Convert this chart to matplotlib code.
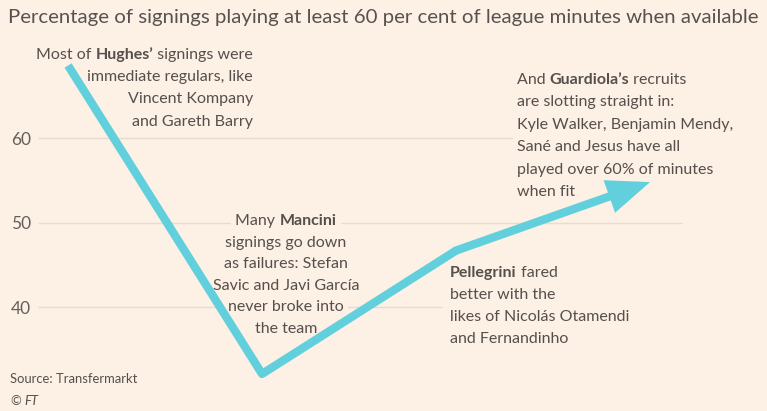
import matplotlib
matplotlib.use("Agg")
import matplotlib.pyplot as plt
from matplotlib.offsetbox import TextArea, HPacker, AnnotationBbox
from matplotlib.patches import FancyArrowPatch

# data
managers = ["Hughes", "Mancini", "Pellegrini", "Guardiola"]
pct_regular = [68.6, 32.1, 46.7, 54.8]
yticks = [40, 50, 60]

title = "Percentage of signings playing at least 60 per cent of league minutes when available"

# each note: list of lines, each line a list of (text, bold) pieces
notes = {
    "Hughes": [
        [("Most of ", False), ("Hughes\u2019", True), (" signings were", False)],
        [("immediate regulars, like", False)],
        [("Vincent Kompany", False)],
        [("and Gareth Barry", False)],
    ],
    "Mancini": [
        [("Many ", False), ("Mancini", True)],
        [("signings go down", False)],
        [("as failures: Stefan", False)],
        [("Savic and Javi García", False)],
        [("never broke into", False)],
        [("the team", False)],
    ],
    "Pellegrini": [
        [("Pellegrini", True), (" fared", False)],
        [("better with the", False)],
        [("likes of Nicolás Otamendi", False)],
        [("and Fernandinho", False)],
    ],
    "Guardiola": [
        [("And ", False), ("Guardiola\u2019s", True), (" recruits", False)],
        [("are slotting straight in:", False)],
        [("Kyle Walker, Benjamin Mendy,", False)],
        [("Sané and Jesus have all", False)],
        [("played over 60% of minutes", False)],
        [("when fit", False)],
    ],
}

BG = "#fdf0e5"
LINE = "#62d0dc"
GRID = "#e8dcd1"
TXT = "#55504c"
FONT = "Lato"
W, H = 767, 411


def fxy(px, py):
    return px / W, 1 - py / H


fig = plt.figure(figsize=(W / 100, H / 100), dpi=100, facecolor=BG)
ax = fig.add_axes([38 / W, 1 - 390 / H, (683 - 38) / W, (390 - 30) / H])
ax.set_facecolor(BG)
x = list(range(len(managers)))
ax.set_xlim(-0.155, 3.17)
ax.set_ylim(30.2, 72.8)

# gridlines, the 40 one stops where the Pellegrini note starts
grid_right = [1.93, 3.17, 3.17]
ax.hlines(yticks, -0.155, grid_right, color=GRID, lw=1.0, zorder=1)

ax.set_yticks(yticks)
ax.set_yticklabels([str(t) for t in yticks], fontfamily=FONT, fontsize=12.5, color="#66605c")
ax.tick_params(axis="y", length=0, pad=5)
ax.set_xticks([])
for s in ax.spines.values():
    s.set_visible(False)

ax.plot(x[:3], pct_regular[:3], color=LINE, lw=6, solid_joinstyle="round",
        solid_capstyle="butt", zorder=5)
arr = FancyArrowPatch((x[2], pct_regular[2]), (x[3], pct_regular[3]),
                      arrowstyle="-|>,head_length=20,head_width=8", mutation_scale=1,
                      color=LINE, lw=6, shrinkA=0, shrinkB=0, capstyle="round",
                      joinstyle="miter", zorder=5)
ax.add_patch(arr)

fig.text(8 / W, fxy(0, 17)[1], title, fontfamily=FONT, fontsize=14.7,
         color="#575250", va="center", ha="left")


def put_note(lines, px, py0, step, ha, pad):
    hb = {"left": 0, "center": 0.5, "right": 1}[ha]
    for i, line in enumerate(lines):
        parts = [TextArea(t, textprops=dict(fontfamily=FONT, fontsize=11.5, color=TXT,
                                            fontweight="bold" if b else "normal"))
                 for t, b in line]
        row = HPacker(children=parts, align="baseline", pad=0, sep=0)
        ab = AnnotationBbox(row, fxy(px, py0 + i * step), xycoords="figure fraction",
                            box_alignment=(hb, 0.5), frameon=True, pad=pad,
                            bboxprops=dict(fc=BG, ec="none", boxstyle="square"),
                            zorder=3, annotation_clip=False)
        ax.add_artist(ab)
        ab.set_clip_on(False)


put_note(notes["Hughes"], 253, 55, 22.2, "right", 0.1)
put_note(notes["Mancini"], 286, 221, 21.6, "center", 0.9)
put_note(notes["Pellegrini"], 450, 273, 22.0, "left", 0.7)
put_note(notes["Guardiola"], 517, 80, 22.4, "left", 0.8)

fig.text(10 / W, fxy(0, 379)[1], "Source: Transfermarkt", fontfamily=FONT, fontsize=9.4,
         color=TXT, va="center")
fig.text(10 / W, fxy(0, 401)[1], "©", fontfamily=FONT, fontsize=9.4, color=TXT, va="center")
fig.text(24 / W, fxy(0, 401)[1], "FT", fontfamily=FONT, fontsize=9.4, color=TXT,
         va="center", style="italic")

fig.savefig("out.png", dpi=100, facecolor=BG)
